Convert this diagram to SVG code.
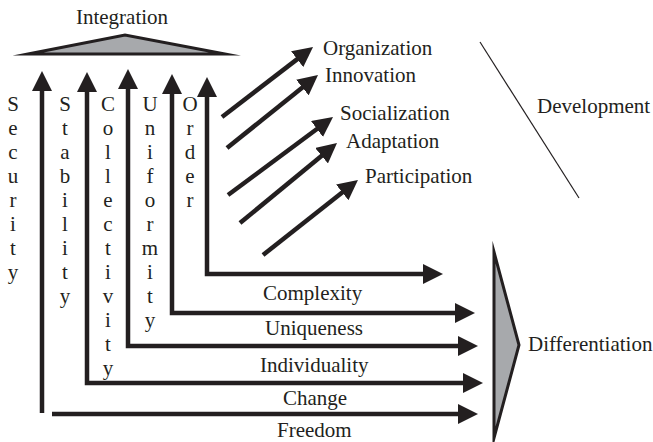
<svg xmlns="http://www.w3.org/2000/svg" width="653" height="442" viewBox="0 0 653 442" font-family="'Liberation Serif', 'DejaVu Serif', serif" font-size="21">
<style>
text{fill:#231f20}
.v{text-anchor:middle}
.ln{fill:none;stroke:#231f20;stroke-width:4.5;marker-end:url(#ah)}
.both{marker-start:url(#ah)}
.tri{fill:#a7a9ac;stroke:#231f20;stroke-width:3;stroke-miterlimit:20}
</style>
<defs>
<marker id="ah" viewBox="0 0 20 20" refX="10" refY="10" markerWidth="20" markerHeight="20" markerUnits="userSpaceOnUse" orient="auto-start-reverse">
<path d="M0,0 L20,10 L0,20 z" fill="#231f20"/>
</marker>
</defs>
<g id="integration">
<polygon class="tri" points="28,54 125,35 225,54"/>
<text x="122" y="24" class="v">Integration</text>
</g>
<g id="differentiation">
<polygon class="tri" points="494,252 519,345 494,438"/>
<text x="528" y="351">Differentiation</text>
</g>
<g id="development">
<line x1="480" y1="42" x2="579" y2="198" stroke="#231f20" stroke-width="1.2"/>
<text x="537" y="113">Development</text>
</g>
<g id="connectors">
<path class="ln" d="M42,413 V81"/>
<path class="ln both" d="M87,82 V383 H473"/>
<path class="ln both" d="M128,79 V346 H468"/>
<path class="ln both" d="M172,84 V313 H465"/>
<path class="ln both" d="M207,87 V274 H433"/>
<path class="ln" d="M52,414 H468"/>
<path class="ln" d="M222,117 L305.1,53.1"/>
<path class="ln" d="M227,148 L310.2,81.3"/>
<path class="ln" d="M228,195 L325,123"/>
<path class="ln" d="M240,223 L329.3,149.4"/>
<path class="ln" d="M263,255 L350.1,186.2"/>
</g>
<g id="security">
<text class="v" x="13" y="111">S</text><text class="v" x="13" y="135">e</text><text class="v" x="13" y="159">c</text><text class="v" x="13" y="183">u</text><text class="v" x="13" y="207">r</text><text class="v" x="13" y="231">i</text><text class="v" x="13" y="255">t</text><text class="v" x="13" y="279">y</text>
</g>
<g id="stability">
<text class="v" x="65" y="111">S</text><text class="v" x="65" y="135">t</text><text class="v" x="65" y="159">a</text><text class="v" x="65" y="183">b</text><text class="v" x="65" y="207">i</text><text class="v" x="65" y="231">l</text><text class="v" x="65" y="255">i</text><text class="v" x="65" y="279">t</text><text class="v" x="65" y="303">y</text>
</g>
<g id="collectivity">
<text class="v" x="108" y="111">C</text><text class="v" x="108" y="135">o</text><text class="v" x="108" y="159">l</text><text class="v" x="108" y="183">l</text><text class="v" x="108" y="207">e</text><text class="v" x="108" y="231">c</text><text class="v" x="108" y="255">t</text><text class="v" x="108" y="279">i</text><text class="v" x="108" y="303">v</text><text class="v" x="108" y="327">i</text><text class="v" x="108" y="351">t</text><text class="v" x="108" y="375">y</text>
</g>
<g id="uniformity">
<text class="v" x="150" y="111">U</text><text class="v" x="150" y="135">n</text><text class="v" x="150" y="159">i</text><text class="v" x="150" y="183">f</text><text class="v" x="150" y="207">o</text><text class="v" x="150" y="231">r</text><text class="v" x="150" y="255">m</text><text class="v" x="150" y="279">i</text><text class="v" x="150" y="303">t</text><text class="v" x="150" y="327">y</text>
</g>
<g id="order">
<text class="v" x="190" y="111">O</text><text class="v" x="190" y="135">r</text><text class="v" x="190" y="159">d</text><text class="v" x="190" y="183">e</text><text class="v" x="190" y="207">r</text>
</g>
<g id="horizontal-labels">
<text x="263" y="300">Complexity</text>
<text x="265" y="335">Uniqueness</text>
<text x="260" y="372">Individuality</text>
<text x="283" y="405">Change</text>
<text x="277" y="437">Freedom</text>
</g>
<g id="diagonal-labels">
<text x="323" y="55">Organization</text>
<text x="325" y="82">Innovation</text>
<text x="340" y="120">Socialization</text>
<text x="346" y="148">Adaptation</text>
<text x="365" y="183">Participation</text>
</g>
</svg>
